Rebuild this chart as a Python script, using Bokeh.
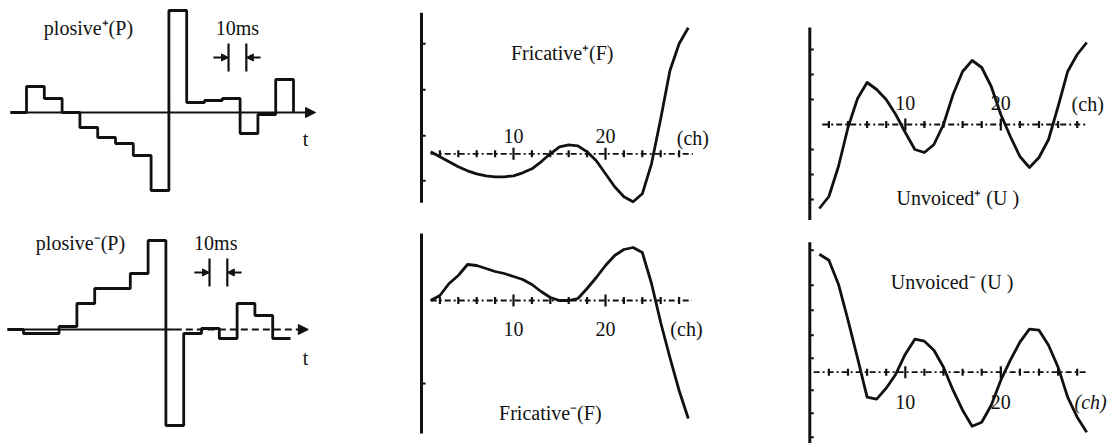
from bokeh.plotting import figure
from bokeh.models import Range1d, Arrow, NormalHead
from bokeh.layouts import row, column
from bokeh.core.properties import value
from bokeh.embed import file_html
from bokeh.resources import INLINE

# ---------------- data ----------------
# Plosive panels: amplitude of each 10 ms frame (frames 0..14)
PLOSIVE_POS = [26, 14, 0, -15, -25, -31, -43, -78, 102, 10, 12, 14, -21, -2, 33]
PLOSIVE_NEG = [-4, -4, 3, 26, 41, 41, 56, 89, -96, -4, 1, -9, 26, 14, -9]
FRAME_10MS = 1  # one frame = 10 ms

# Spectral panels: value at channels 1..29
CH = list(range(1, 30))
FRIC_POS = [2, -3, -8, -13, -17, -20, -22, -23, -23, -22, -19, -15, -8, 0, 7,
            9, 8, 2, -7, -20, -33, -43, -48, -40, -10, 35, 83, 110, 126]
FRIC_NEG = [0, 5, 17, 25, 36, 35, 32, 29, 27, 24, 21, 16, 9, 3, 0,
            0, 2, 12, 23, 35, 45, 51, 53, 48, 17, -22, -57, -90, -118]
UNV_POS = [-84, -72, -42, -3, 26, 42, 35, 25, 10, -8, -25, -28, -20, 0, 30,
           53, 64, 57, 38, 10, -12, -32, -43, -33, -15, 18, 53, 70, 82]
UNV_NEG = [118, 112, 88, 52, 14, -25, -27, -16, -2, 18, 33, 31, 22, 5, -18,
           -38, -54, -50, -33, -8, 12, 30, 43, 42, 27, 5, -25, -45, -60]

CH_TICKS_MINOR = [2, 4, 6, 8, 12, 14, 16, 18, 22, 24, 26, 28]
CH_TICKS_MAJOR = [10, 20]
CH_LABELS = ["10", "20"]

FRIC_POS_VTICKS = [110, 64, 18, -27]
FRIC_NEG_VTICKS = [-83]
UNV_POS_VTICKS = [75, 50, 25, -25, -50, -75]
UNV_NEG_VTICKS = [122, 87, 62, 37, 14, -18, -41, -65]

TITLES = {
    "pp": "plosive⁺(P)", "pn": "plosive⁻(P)",
    "fp": "Fricative⁺(F)", "fn": "Fricative⁻(F)",
    "up": "Unvoiced⁺ (U )", "un": "Unvoiced⁻ (U )",
}

# ---------------- style ----------------
FONT = value("Liberation Serif")
FS = "20px"
INK = "#111111"


def make_panel(w, h, left, top, x0, sx, y0):
    # left/top: page position of the panel; x0/sx/y0: where data origin sits
    return figure(
        width=w, height=h,
        x_range=Range1d((left - x0) / sx, (left + w - x0) / sx),
        y_range=Range1d(y0 - (top + h), y0 - top),
        x_axis_type=None, y_axis_type=None,
        toolbar_location=None, output_backend="svg",
        min_border=0, outline_line_color=None,
        background_fill_color="white", border_fill_color="white",
    )


def label(p, x, y, txt, style="normal", align="center"):
    p.text(x=[x], y=[y], text=[txt], text_font=FONT, text_font_size=FS,
           text_align=align, text_baseline="middle", text_color=INK,
           text_font_style=style)


def plosive(p, levels, last, ax_end, bracket_at, title_xy, ms_xy, t_xy, title,
            dashed_right=False):
    xs = [-0.9] + list(range(0, len(levels) + 1))
    ys = [0] + levels + [last]
    # time axis
    if dashed_right:
        p.line([-0.9, 8.5], [0, 0], line_width=2, color=INK)
        p.line([8.5, ax_end - 0.5], [0, 0], line_width=2, color=INK, line_dash="7 4")
        p.add_layout(Arrow(x_start=ax_end - 0.55, x_end=ax_end, y_start=0, y_end=0,
                           line_width=2, line_color=INK,
                           end=NormalHead(size=10, fill_color=INK, line_color=INK)))
    else:
        p.add_layout(Arrow(x_start=-0.9, x_end=ax_end, y_start=0, y_end=0,
                           line_width=2, line_color=INK,
                           end=NormalHead(size=10, fill_color=INK, line_color=INK)))
    p.step(xs, ys, mode="after", line_width=2.8, color=INK)
    # 10 ms bracket
    a, b = bracket_at, bracket_at + FRAME_10MS
    yb = ms_xy[1]
    p.segment(x0=[a, b], x1=[a, b], y0=[yb - 44, yb - 44], y1=[yb - 16, yb - 16],
              line_width=2.2, color=INK)
    for xs0, xe in ((a - 0.85, a), (b + 0.8, b)):
        p.add_layout(Arrow(x_start=xs0, x_end=xe, y_start=yb - 30, y_end=yb - 30,
                           line_width=2, line_color=INK,
                           end=NormalHead(size=7, fill_color=INK, line_color=INK)))
    label(p, title_xy[0], title_xy[1], title)
    label(p, ms_xy[0], ms_xy[1], "10ms")
    label(p, t_xy[0], t_xy[1], "t")


def spectrum(p, vals, haxis, vaxis, vticks, tick_len, lab_y, ch_xy, title, title_xy,
             ch_style="normal"):
    # vertical axis
    p.segment(x0=[0], x1=[0], y0=[vaxis[0]], y1=[vaxis[1]], line_width=3, color=INK)
    p.segment(x0=[0] * len(vticks), x1=[tick_len] * len(vticks), y0=vticks, y1=vticks,
              line_width=2, color=INK)
    # channel axis (dash-dot with cross ticks)
    p.line(haxis, [0, 0], line_width=1.8, color=INK, line_dash="6 3 2 3")
    n = len(CH_TICKS_MINOR)
    p.segment(x0=CH_TICKS_MINOR, x1=CH_TICKS_MINOR, y0=[-3.5] * n, y1=[3.5] * n,
              line_width=2.2, color=INK)
    p.segment(x0=CH_TICKS_MAJOR, x1=CH_TICKS_MAJOR, y0=[-6, -6], y1=[6, 6],
              line_width=2.2, color=INK)
    # curve
    p.line(CH, vals, line_width=2.8, color=INK, line_join="round")
    # labels
    p.text(x=CH_TICKS_MAJOR, y=[lab_y, lab_y], text=CH_LABELS, text_font=FONT,
           text_font_size=FS, text_align="center", text_baseline="middle",
           text_color=INK)
    label(p, ch_xy[0], ch_xy[1], "(ch)", style=ch_style)
    label(p, title_xy[0], title_xy[1], title)


# column/row page geometry (page px)
C1, C2, C3 = (0, 380), (380, 385), (765, 353)
R1, R2 = (0, 220), (220, 223)

p_pp = make_panel(C1[1], R1[1], C1[0], R1[0], 26, 17.8, 112)
plosive(p_pp, PLOSIVE_POS, 0, 16.24, 11.35, (3.48, 85), (11.85, 85), (15.67, -26),
        TITLES["pp"])

p_pn = make_panel(C1[1], R2[1], C1[0], R2[0], 23, 17.8, 329)
plosive(p_pn, PLOSIVE_NEG, -9, 16.0, 10.45, (3.2, 87), (10.8, 87), (15.84, -28),
        TITLES["pn"], dashed_right=True)

p_fp = make_panel(C2[1], R1[1], C2[0], R1[0], 421, 9.2, 153.3)
spectrum(p_fp, FRIC_POS, [1, 29.5], [-49, 141], FRIC_POS_VTICKS, 0.45, 18,
         (29.5, 16), TITLES["fp"], (15.3, 101))

p_fn = make_panel(C2[1], R2[1], C2[0], R2[0], 421, 9.2, 300)
spectrum(p_fn, FRIC_NEG, [1, 29.4], [-133, 67], FRIC_NEG_VTICKS, 0.45, -28,
         (28.8, -28), TITLES["fn"], (14.0, -112))

p_up = make_panel(C3[1], R1[1], C3[0], R1[0], 809.3, 9.55, 124)
spectrum(p_up, UNV_POS, [1.3, 29.05], [-96, 97], UNV_POS_VTICKS, 0.42, 22,
         (29.1, 21), TITLES["up"], (15.5, -73))

p_un = make_panel(C3[1], R2[1], C3[0], R2[0], 809.3, 9.55, 371.7)
spectrum(p_un, UNV_NEG, [0.4, 29.2], [-72, 130], UNV_NEG_VTICKS, 0.42, -30,
         (29.4, -30), TITLES["un"], (14.9, 90), ch_style="italic")

layout = column(row(p_pp, p_fp, p_up), row(p_pn, p_fn, p_un))

open("out.html", "w").write(file_html(layout, INLINE, title="Feature patterns"))
